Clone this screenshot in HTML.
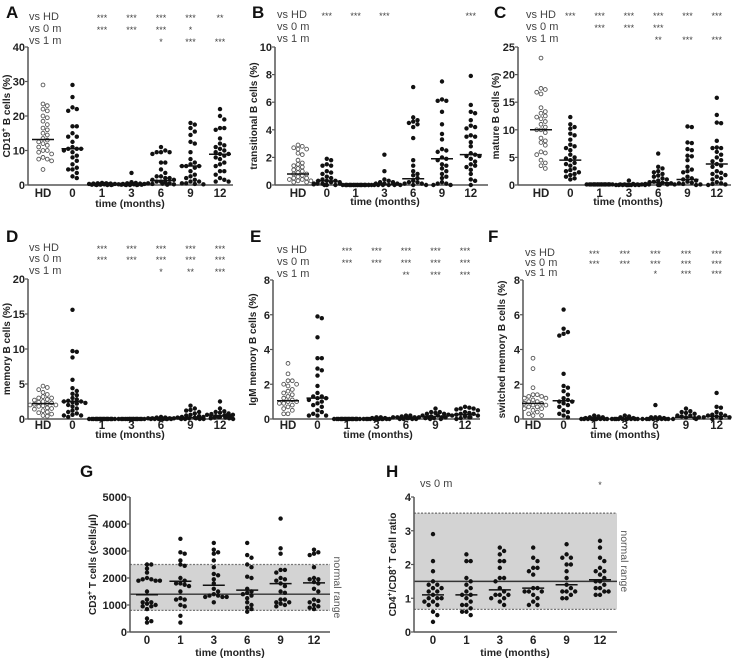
<!DOCTYPE html>
<html><head><meta charset="utf-8"><style>
html,body{margin:0;padding:0;background:#fff;}
svg{display:block;font-family:"Liberation Sans",Arial,sans-serif;}
</style></head><body>
<svg id="fig" width="733" height="661" viewBox="0 0 733 661" xmlns="http://www.w3.org/2000/svg"></svg>
<script>
const catsB = ["HD","0","1","3","6","9","12"];
const catsT = ["0","1","3","6","9","12"];
// Panel A: CD19+ B cells
const aVals = [
[29,23.5,23,22,21.5,20,19.5,18.5,17.5,16.5,16,15,14.5,13.5,13,12.5,12,11.5,11,10,10,9.5,9,8,7.5,7.5,7,4.5],
[29,25.5,22.5,22,21.5,17,17,15,14,14,12.5,11,10.5,10.5,10.5,10,9.5,8.5,8,7,6,5,4.5,4.5,3.5,2.5,2],
[0.6,0.5,0.5,0.4,0.4,0.3,0.3,0.3,0.2,0.2,0.2,0.1,0.1,0.1,0.1,0,0,0],
[3.5,0.8,0.6,0.5,0.4,0.3,0.3,0.2,0.2,0.2,0.1,0.1,0.1,0.1,0,0,0],
[11,10,9.5,9.5,9.5,9,6.5,6.5,4.5,3.5,2.5,2.5,2,2,1.5,1.5,1,1,0.8,0.5,0.5,0.4,0.3,0.2,0.1],
[18,17.5,16.5,15.5,14.5,12.5,12,9.5,7.5,6.5,6,5.5,5.5,5.5,5,4,3,2.5,2,1.5,1,1,0.5,0.5,0.3,0.2],
[22,20,19,16.5,16.5,16,13.5,12,11.5,11,10.5,10,9.5,9,9,8.5,8,7.5,6.5,6,5.5,4,4,3,2,1.5,1,1]];
const aMed = [13.2,10.5,0.2,0.2,1.3,5.5,8.9];
const aSig = [["","***","***","***","***","**"],["","***","***","***","*",""],["","","","*","***","***"]];
// Panel B: transitional
const bVals = [
[2.9,2.8,2.7,2.6,2.6,2.3,2.2,1.8,1.6,1.5,1.4,1.3,1.2,1.1,1.0,0.9,0.8,0.8,0.7,0.6,0.5,0.5,0.4,0.4,0.3,0.3,0.2,0.2],
[1.9,1.8,1.5,1.4,1.4,1.0,0.9,0.8,0.6,0.5,0.4,0.3,0.3,0.3,0.2,0.2,0.1,0.1,0.1,0.1,0.05,0,0,0],
[0,0,0,0,0,0,0,0,0,0,0,0,0,0,0,0,0,0,0,0],
[2.2,1.0,0.4,0.3,0.2,0.2,0.1,0.1,0.1,0,0,0,0,0,0],
[7.1,4.9,4.7,4.6,4.5,4.4,4.2,3.4,1.8,1.4,1.0,0.8,0.7,0.5,0.3,0.2,0.2,0.1,0.1,0,0,0],
[7.5,6.2,6.1,6.1,5.3,4.4,3.7,3.3,2.6,2.5,2.4,2.0,1.9,1.8,1.5,1.4,1.2,1.0,0.8,0.6,0.5,0.2,0.1,0.1,0,0],
[7.9,5.8,5.3,5.2,4.7,4.3,4.2,4.1,3.6,3.5,3.5,3.1,2.8,2.3,2.2,2.1,2.1,1.9,1.7,1.5,1.4,1.3,1.1,0.8,0.4,0.3,0]];
const bMed = [0.8,0.3,0,0.05,0.45,1.9,2.2];
const bSig = [["***","***","***","","","***"],["","","","","",""],["","","","","",""]];
// Panel C: mature
const cVals = [
[23,17.5,17.3,16.8,16.5,14,13.3,13,12.5,12.3,12,11.5,11,10.5,10,10,9.5,8.5,8,7.7,7.2,6,5.8,5.5,4.5,4,3.5,3],
[12.3,11,10.5,10.2,9.3,9,8.2,7.3,7,6.7,6.3,5.5,5,4.8,4.5,4,3.8,3.5,3,2.7,2.5,2.3,2,1.8,1.5,1.2,1],
[0.1,0.1,0.1,0.1,0.1,0.1,0.1,0.1,0.1,0.1,0.1,0.1,0.1,0.1,0.1,0.1,0.1,0.1],
[0.8,0.2,0.1,0.1,0.1,0.1,0,0,0,0,0,0,0,0,0],
[5.7,3.3,3,2.5,2.3,2,1.7,1.5,1.2,1,0.8,0.6,0.5,0.4,0.3,0.2,0.2,0.1,0.1,0,0,0],
[10.6,10.5,7.7,7.6,6.5,6.3,5.3,5.2,4.5,3.3,2.8,2.5,2.3,1.5,1.2,1,0.8,0.6,0.4,0.3,0.2,0.1,0.1,0],
[15.8,12.7,11.3,11.2,8,6.8,6.7,6.7,6,5.5,5,4.5,4.3,3.8,3.5,3.3,2.5,2.2,2,1.8,1.5,1.2,1,0.5,0.3,0.2,0.1,0]];
const cMed = [10,4.5,0,0,0.4,1,3.8];
const cSig = [["***","***","***","***","***","***"],["","***","***","***","",""],["","","","**","***","***"]];
// Panel D: memory
const dVals = [
[4.7,4.5,4.2,3.8,3.5,3.2,3,3,2.8,2.7,2.5,2.4,2.3,2.2,2.1,2,2,1.9,1.8,1.6,1.5,1.4,1.2,1,0.9,0.7,0.5,0.4],
[15.6,9.7,9.6,8.8,5.6,4.4,4,3.6,3.4,3,2.8,2.6,2.5,2.5,2.4,2.3,2.2,2,1.8,1.5,1.2,1,0.8,0.6,0.5,0.5,0.3],
[0,0,0,0,0,0,0,0,0,0,0,0,0,0,0,0,0,0],
[0,0,0,0,0,0,0,0,0,0,0,0,0,0,0,0],
[0.3,0.2,0.2,0.1,0.1,0.1,0.1,0.05,0,0,0,0,0,0,0,0],
[1.9,1.5,1.3,1.2,1,0.8,0.6,0.5,0.4,0.3,0.3,0.2,0.2,0.1,0.1,0.1,0,0,0,0],
[2.5,1.5,1.1,1,0.9,0.8,0.7,0.6,0.6,0.5,0.5,0.4,0.4,0.3,0.3,0.2,0.2,0.1,0.1,0]];
const dMed = [2.2,2.5,0,0,0.05,0.2,0.45];
const dSig = [["","***","***","***","***","***"],["","***","***","***","***","***"],["","","","*","**","***"]];
// Panel E: IgM memory
const eVals = [
[3.2,2.6,2.2,2.2,2,2,1.9,1.7,1.6,1.5,1.4,1.3,1.2,1.1,1.0,1.0,0.9,0.9,0.8,0.7,0.6,0.5,0.3,0.3],
[5.9,5.8,4.7,3.5,3.5,2.9,2.8,2.5,1.9,1.5,1.3,1.3,1.2,1.2,1.1,1.0,0.9,0.8,0.7,0.5,0.4,0.3,0.2,0.2,0.2],
[0,0,0,0,0,0,0,0,0,0,0,0,0,0,0,0,0,0],
[0.1,0.1,0.05,0.05,0,0,0,0,0,0,0,0,0,0,0,0],
[0.2,0.2,0.15,0.1,0.1,0.1,0.1,0.05,0.05,0,0,0,0],
[0.6,0.4,0.4,0.35,0.3,0.3,0.25,0.2,0.2,0.15,0.1,0.1,0.1,0.05,0.05,0,0],
[0.7,0.65,0.6,0.6,0.55,0.5,0.4,0.35,0.3,0.3,0.25,0.2,0.2,0.15,0.1,0.1,0.05,0]];
const eMed = [1.05,1.2,0,0,0.1,0.15,0.25];
const eSig = [["","***","***","***","***","***"],["","***","***","***","***","***"],["","","","**","***","***"]];
// Panel F: switched memory
const fVals = [
[3.5,2.9,1.8,1.4,1.4,1.3,1.3,1.2,1.2,1.1,1.0,1.0,0.9,0.9,0.8,0.8,0.7,0.7,0.6,0.6,0.5,0.4,0.3,0.2,0.2],
[6.3,5.2,5.0,4.9,4.8,2.6,1.9,1.8,1.6,1.4,1.2,1.1,1.0,1.0,0.9,0.8,0.7,0.5,0.4,0.3,0.2,0.1],
[0.2,0.15,0.1,0.1,0.05,0,0,0,0,0,0,0,0,0,0],
[0.2,0.15,0.1,0.05,0,0,0,0,0,0,0,0,0,0],
[0.8,0.1,0.1,0.1,0.05,0,0,0,0,0,0,0,0],
[0.6,0.45,0.4,0.35,0.3,0.2,0.2,0.15,0.1,0.1,0.05,0,0],
[1.5,0.7,0.65,0.4,0.3,0.25,0.2,0.2,0.15,0.1,0.1,0.05,0]];
const fMed = [0.9,1.05,0,0,0,0.1,0.15];
const fSig = [["","***","***","***","***","***"],["","***","***","***","***","***"],["","","","*","***","***"]];
// Panel G: CD3+ T cells
const gVals = [
[2500,2500,2350,2200,2000,1950,1950,1900,1900,1900,1500,1200,1100,1100,1050,1000,950,950,850,500,400,350],
[3450,2950,2900,2650,2500,2450,2000,1900,1800,1800,1750,1700,1500,1250,1200,1200,1000,950,600,350],
[3300,3050,2950,2900,2650,2400,2150,2100,1950,1800,1600,1500,1400,1350,1350,1300,1300,1300,1100],
[3300,2850,2750,2500,2400,2050,2000,1600,1500,1450,1400,1350,1250,1100,1000,900,850,750],
[4200,3100,2900,2300,2300,2200,2000,1950,1900,1800,1700,1500,1450,1200,1200,1100,1100,1050,1000,950],
[3050,2950,2900,2850,2400,2000,1950,1950,1850,1800,1600,1500,1200,1150,1100,1000,950,900,850]];
const gMed = [1380,1880,1730,1550,1790,1820];
const gRange = [800,2500];
const gRef = [1400];
// Panel H: CD4/CD8 ratio
const hVals = [
[2.9,2.1,1.8,1.5,1.4,1.4,1.3,1.3,1.2,1.2,1.1,1.0,1.0,1.0,0.9,0.9,0.8,0.8,0.6,0.5,0.3],
[2.3,2.1,2.1,1.6,1.5,1.4,1.3,1.2,1.1,1.1,1.0,0.9,0.8,0.8,0.7,0.6,0.6,0.5],
[2.5,2.4,2.3,2.1,2.1,1.9,1.6,1.6,1.5,1.3,1.2,1.1,1.1,1.1,1.0,1.0,0.9,0.8],
[2.5,2.2,2.1,1.9,1.9,1.8,1.7,1.3,1.3,1.2,1.2,1.2,1.1,1.0,0.9,0.8,0.8],
[2.6,2.3,2.2,2.2,2.0,2.0,1.8,1.6,1.4,1.3,1.2,1.2,1.2,1.1,1.0,1.0],
[2.7,2.5,2.2,2.1,1.9,1.8,1.8,1.7,1.6,1.5,1.5,1.4,1.3,1.3,1.2,1.2,1.1,1.1]];
const hMed = [1.1,1.1,1.25,1.3,1.4,1.55];
const hRange = [0.67,3.52];
const hRef = [1.5];
const hSig = [["","","","","","*"]];

const NS="http://www.w3.org/2000/svg";
const svg=document.getElementById('fig');
function mk(tag,attrs,parent,text){const e=document.createElementNS(NS,tag);for(const k in attrs)e.setAttribute(k,attrs[k]);if(text!==undefined)e.textContent=text;(parent||svg).appendChild(e);return e;}

function panel(c){
  const g=mk('g',{});
  
  
  const ys=v=>c.yBot-(v/c.max)*(c.yBot-c.yTop);
  const xs=i=>c.x0+i*c.step;
  if(c.range){
    const b=mk('rect',{x:c.ax,y:ys(c.range[1]),width:c.xEnd-c.ax,height:ys(c.range[0])-ys(c.range[1]),fill:'#d3d3d3'},g);
    
    
    for(const r of c.range){const l=mk('line',{x1:c.ax,x2:c.xEnd,y1:ys(r),y2:ys(r),stroke:'#777','stroke-width':1.3,'stroke-dasharray':'2,1.5'},g);
      
      }
    const t=mk('text',{x:0,y:0,transform:`translate(${c.xEnd+4},${(ys(c.range[0])+ys(c.range[1]))/2}) rotate(90)`,'text-anchor':'middle','font-size':10.5,fill:'#555'},g,'normal range');
    
    
    const rl=mk('line',{x1:c.ax,x2:c.xEnd,y1:ys(c.ref[0]),y2:ys(c.ref[0]),stroke:'#333','stroke-width':1.4},g);
    
    
  }
  const ya=mk('line',{x1:c.ax,x2:c.ax,y1:c.yTop,y2:c.yBot,stroke:'#555','stroke-width':1.5},g);
  
  
  const xa=mk('line',{x1:c.ax,x2:c.xEnd,y1:c.yBot,y2:c.yBot,stroke:'#555','stroke-width':1.5},g);
  
  
  for(const t of c.ticks){
    mk('line',{x1:c.ax-3,x2:c.ax,y1:ys(t),y2:ys(t),stroke:'#555','stroke-width':1.2},g);
    const tl=mk('text',{x:c.ax-3,y:ys(t)+4,'text-anchor':'end','font-size':11,'font-weight':'bold',fill:'#222'},g,String(t));
    
    
  }
  c.cats.forEach((cat,i)=>{
    const tl=mk('text',{x:xs(i),y:c.xTickY,'text-anchor':'middle','font-size':11.5,'font-weight':'bold',fill:'#222'},g,cat);
    
    
  });
  const xt=mk('text',{x:c.xTitleX,y:c.xTitleY,'text-anchor':'middle','font-size':10.5,'font-weight':'bold',fill:'#222'},g,'time (months)');
  
  
  const yt=mk('text',{x:0,y:0,transform:`translate(${c.ytX},${(c.yTop+c.yBot)/2}) rotate(-90)`,'text-anchor':'middle','font-size':10,'font-weight':'bold',fill:'#222'},g);
  yt.innerHTML=c.ytitle;
  
  
  const lt=mk('text',{x:c.lx,y:c.ly,'font-size':17,'font-weight':'bold',fill:'#111'},g,c.letter);
  
  
  c.sig.forEach((row,r)=>{
    const lab=mk('text',{x:c.sigX,y:c.sigY[r]+4,'font-size':11,fill:'#444'},g,c.sigLabels[r]);
    
    
    row.forEach((s,j)=>{ if(!s)return;
      const st=mk('text',{x:xs(j+c.sigOff),y:c.sigY[r]+5,'text-anchor':'middle','font-size':9,fill:'#444'},g,s);
      
      
    });
  });
  const R=2.2, D=4.3;
  const offs=[0,1,-1,2,-2,3,-3].map(k=>k*D);
  c.vals.forEach((arr,i)=>{
    const placed=[];
    const sorted=arr.slice().sort((a,b)=>b-a);
    sorted.forEach((v,n)=>{
      const y=ys(v); let dx=null;
      for(const cand of offs){
        if(placed.every(p=>Math.hypot(p[0]-cand,p[1]-y)>=D-0.3)){dx=cand;break;}
      }
      if(dx===null) dx=offs[n%offs.length]*0.9+((n%2)?1.5:-1.5);
      placed.push([dx,y]);
      const open=c.openFirst&&i===0;
      const p=mk('circle',{cx:xs(i)+dx,cy:y,r:open?1.9:R,fill:open?'#fff':'#111',stroke:open?'#555':'none','stroke-width':0.9},g);
      
      
    });
    const m=mk('line',{x1:xs(i)-11,x2:xs(i)+11,y1:ys(c.med[i]),y2:ys(c.med[i]),stroke:'#111','stroke-width':1.5},g);
    
    
  });
}
const L3=["vs HD","vs 0 m","vs 1 m"];
const common={cats:catsB,openFirst:true,sigLabels:L3,sigOff:1};
panel(Object.assign({},common,{letter:'A',lx:6,ly:18,ax:28,x0:43,step:29.5,xEnd:233,yTop:47,yBot:185,max:40,ticks:[0,10,20,30,40],vals:aVals,med:aMed,sig:aSig,sigX:29,sigY:[16,28,40],xTickY:197,xTitleX:130,xTitleY:207,ytX:10,ytitle:'CD19<tspan font-size="7" dy="-4">+</tspan><tspan dy="4"> B cells (%)</tspan>'}));
panel(Object.assign({},common,{letter:'B',lx:252,ly:18,ax:275,x0:298,step:28.8,xEnd:488,yTop:47,yBot:185,max:10,ticks:[0,2,4,6,8,10],vals:bVals,med:bMed,sig:bSig,sigX:277,sigY:[14,26,38],xTickY:197,xTitleX:385,xTitleY:205,ytX:257,ytitle:'transitional B cells (%)'}));
panel(Object.assign({},common,{letter:'C',lx:494,ly:18,ax:518,x0:541,step:29.3,xEnd:731,yTop:47,yBot:185,max:25,ticks:[0,5,10,15,20,25],vals:cVals,med:cMed,sig:cSig,sigX:526,sigY:[14,26,38],xTickY:197,xTitleX:628,xTitleY:205,ytX:499,ytitle:'mature B cells (%)'}));
panel(Object.assign({},common,{letter:'D',lx:6,ly:242,ax:28,x0:43,step:29.5,xEnd:233,yTop:279,yBot:419,max:20,ticks:[0,5,10,15,20],vals:dVals,med:dMed,sig:dSig,sigX:29,sigY:[247,258,270],xTickY:429,xTitleX:130,xTitleY:438,ytX:10,ytitle:'memory B cells (%)'}));
panel(Object.assign({},common,{letter:'E',lx:250,ly:242,ax:273,x0:288,step:29.5,xEnd:480,yTop:280,yBot:419,max:8,ticks:[0,2,4,6,8],vals:eVals,med:eMed,sig:eSig,sigX:277,sigY:[249,261,273],xTickY:429,xTitleX:378,xTitleY:438,ytX:256,ytitle:'IgM memory B cells (%)'}));
panel(Object.assign({},common,{letter:'F',lx:488,ly:242,ax:523,x0:533,step:30.6,xEnd:731,yTop:280,yBot:419,max:8,ticks:[0,2,4,6,8],vals:fVals,med:fMed,sig:fSig,sigX:525,sigY:[252,262,272],xTickY:429,xTitleX:625,xTitleY:438,ytX:505,ytitle:'switched memory B cells (%)'}));
panel({letter:'G',lx:80,ly:477,ax:130,x0:147,step:33.4,xEnd:330,yTop:497,yBot:632,max:5000,ticks:[0,1000,2000,3000,4000,5000],cats:catsT,openFirst:false,vals:gVals,med:gMed,sig:[],sigLabels:[],sigOff:0,sigX:0,sigY:[],range:gRange,ref:gRef,xTickY:644,xTitleX:230,xTitleY:656,ytX:96,ytitle:'CD3<tspan font-size="7" dy="-4">+</tspan><tspan dy="4"> T cells (cells/µl)</tspan>'});
panel({letter:'H',lx:386,ly:477,ax:414,x0:433,step:33.4,xEnd:617,yTop:497,yBot:632,max:4,ticks:[0,1,2,3,4],cats:catsT,openFirst:false,vals:hVals,med:hMed,sig:hSig,sigLabels:["vs 0 m"],sigOff:0,sigX:420,sigY:[483],range:hRange,ref:hRef,xTickY:644,xTitleX:515,xTitleY:656,ytX:396,ytitle:'CD4<tspan font-size="7" dy="-4">+</tspan><tspan dy="4">/CD8</tspan><tspan font-size="7" dy="-4">+</tspan><tspan dy="4"> T cell ratio</tspan>'});
</script>
</body></html>
